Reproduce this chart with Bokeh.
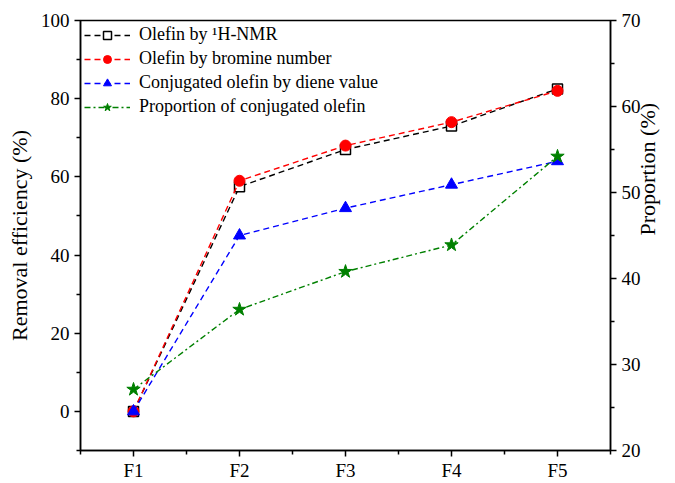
from bokeh.plotting import figure
from bokeh.models import (Range1d, LinearAxis, FixedTicker, Legend, LegendItem)
from bokeh.embed import file_html
from bokeh.resources import INLINE
import math

categories = ["F1", "F2", "F3", "F4", "F5"]
olefin_nmr = [0.0, 57.5, 67.0, 73.0, 82.5]
olefin_bromine = [0.0, 59.0, 68.0, 74.0, 82.0]
conj_diene = [0.0, 45.0, 52.0, 58.0, 64.0]
proportion_conj = [27.1, 36.4, 40.8, 43.9, 54.2]

x = list(range(1, len(categories) + 1))
FONT = "Liberation Serif"

p = figure(width=675, height=483, output_backend="svg", toolbar_location=None,
           x_range=Range1d(0.5, 5.5), y_range=Range1d(-10, 100),
           min_border_left=80, min_border_right=62, min_border_top=20, min_border_bottom=31)
p.extra_y_ranges = {"right": Range1d(20, 70)}
p.xgrid.visible = False
p.ygrid.visible = False
p.outline_line_color = "black"
p.outline_line_width = 1.5
p.background_fill_color = "white"
p.border_fill_color = "white"

ya = p.yaxis[0]
ya.ticker = FixedTicker(ticks=[0, 20, 40, 60, 80, 100], minor_ticks=[-10, 10, 30, 50, 70, 90])
ya.axis_label = "Removal efficiency (%)"

xa = p.xaxis[0]
xa.ticker = FixedTicker(ticks=x, minor_ticks=[0.5, 1.5, 2.5, 3.5, 4.5, 5.5])
xa.major_label_overrides = {i: c for i, c in zip(x, categories)}

ra = LinearAxis(y_range_name="right", axis_label="Proportion (%)")
ra.ticker = FixedTicker(ticks=[20, 30, 40, 50, 60, 70], minor_ticks=[25, 35, 45, 55, 65])
if "axis_label_orientation" in LinearAxis.properties():
    try:
        ra.axis_label_orientation = math.pi / 2
    except Exception:
        pass
p.add_layout(ra, "right")

for ax in [ya, xa, ra]:
    ax.axis_line_color = "black"
    ax.axis_line_width = 1.5
    ax.major_tick_line_color = "black"
    ax.major_tick_line_width = 1.5
    ax.minor_tick_line_color = "black"
    ax.minor_tick_line_width = 1.5
    ax.major_tick_in = 0
    ax.major_tick_out = 6
    ax.minor_tick_in = 0
    ax.minor_tick_out = 4
    ax.major_label_text_font = FONT
    ax.major_label_text_font_size = "19px"
    ax.major_label_text_color = "black"
    ax.axis_label_text_font = FONT
    ax.axis_label_text_font_size = "22px"
    ax.axis_label_text_font_style = "normal"
    ax.axis_label_text_color = "black"
    ax.major_label_standoff = 5

ya.axis_label_standoff = 6
ra.axis_label_standoff = 4
xa.major_label_standoff = 3

l1 = p.line(x, olefin_nmr, line_color="black", line_dash="6 4", line_width=1.4)
s1 = p.scatter(x, olefin_nmr, marker="square", size=10, fill_color="white",
               line_color="black", line_width=1.5)
l2 = p.line(x, olefin_bromine, line_color="red", line_dash="6 4", line_width=1.4)
s2 = p.scatter(x, olefin_bromine, marker="circle", size=11, fill_color="red", line_color="red")
l3 = p.line(x, conj_diene, line_color="blue", line_dash="6 4", line_width=1.4)
s3 = p.scatter(x, conj_diene, marker="triangle", size=12, fill_color="blue", line_color="blue")
l4 = p.line(x, proportion_conj, line_color="green", line_dash="6 3 2 3", line_width=1.4,
            y_range_name="right")
s4 = p.scatter(x, proportion_conj, marker="star", size=14, fill_color="green", line_color="green",
               y_range_name="right")

legend = Legend(items=[
    LegendItem(label="Olefin by \u00b9H-NMR", renderers=[l1, s1]),
    LegendItem(label="Olefin by bromine number", renderers=[l2, s2]),
    LegendItem(label="Conjugated olefin by diene value", renderers=[l3, s3]),
    LegendItem(label="Proportion of conjugated olefin", renderers=[l4, s4]),
], location="top_left")
legend.border_line_color = None
legend.background_fill_alpha = 0
legend.label_text_font = FONT
legend.label_text_font_size = "18px"
legend.label_text_color = "black"
legend.glyph_width = 46
legend.glyph_height = 20
legend.label_height = 20
legend.spacing = 3
legend.padding = 3
legend.margin = 4
legend.label_standoff = 9
p.add_layout(legend)

open("out.html", "w").write(file_html(p, INLINE))
